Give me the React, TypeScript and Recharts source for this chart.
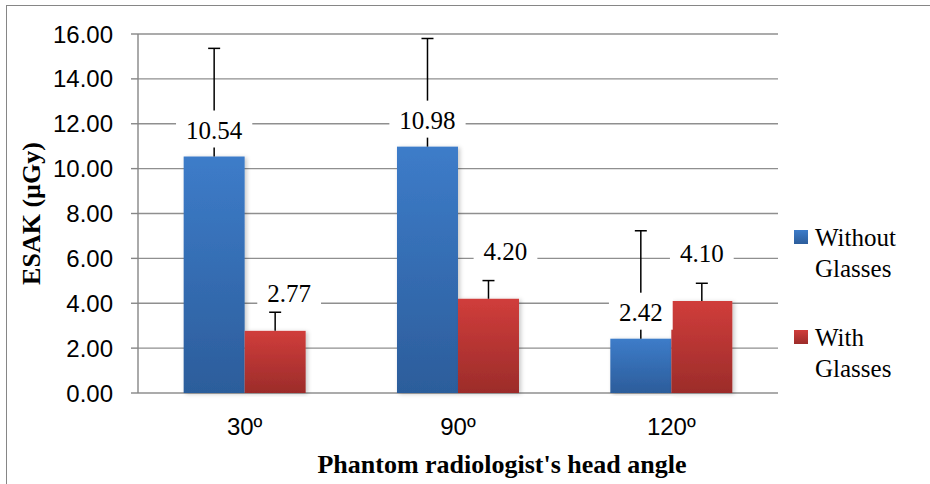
import React from 'react';
import { BarChart, Bar, XAxis, YAxis, CartesianGrid, Legend, LabelList, Label } from 'recharts';

// values
const angles = ['30º', '90º', '120º'];
const withoutGlasses = [10.54, 10.98, 2.42];
const withGlasses = [2.77, 4.2, 4.1];
const withoutGlassesErr = [4.82, 4.82, 4.81];
const withGlassesErr = [0.83, 0.81, 0.79];
const yTicks = [0, 2, 4, 6, 8, 10, 12, 14, 16];
const boundaryTicks = [0, 1, 2, 3];

const data = angles.map((angle, i) => ({
  angle,
  without: withoutGlasses[i],
  with: withGlasses[i],
  withoutErr: withoutGlassesErr[i],
  withErr: withGlassesErr[i],
}));

const SERIF = "'Liberation Serif', 'Times New Roman', serif";
const SANS = "'Liberation Sans', Arial, sans-serif";
const AXIS = '#868686';

// label placement (lift above bar top, sideways nudge) as in the reference
const blueLift = [26, 26, 26];
const redLift = [37, 47, 48];
const blueShift = [0, 0, 0];
const redShift = [14, 17, 0];

const makeShape = (valueKey: string, errKey: string, gradId: string) => (props: any) => {
  const { x, y, width, height, payload } = props;
  const v = payload[valueKey];
  const perUnit = v ? height / v : 0;
  const top = y - payload[errKey] * perUnit;
  const cx = x + width / 2;
  return (
    <g>
      <rect x={x} y={y} width={width} height={height} fill={`url(#${gradId})`} filter="url(#barShadow)" />
      <line x1={cx} x2={cx} y1={y} y2={top} stroke="#000" strokeWidth={1.5} />
      <line x1={cx - 6} x2={cx + 6} y1={top} y2={top} stroke="#000" strokeWidth={1.5} />
    </g>
  );
};

const makeLabel = (lifts: number[], shifts: number[]) => (props: any) => {
  const { x, y, width, value, index } = props;
  const cx = x + width / 2 + shifts[index];
  const cy = y - lifts[index];
  const text = Number(value).toFixed(2);
  const w = (text.length - 1) * 12.5 + 6.25 + 20;
  return (
    <g>
      <rect x={cx - w / 2} y={cy - 20} width={w} height={37} fill="#fff" />
      <text x={cx} y={cy} textAnchor="middle" dominantBaseline="central" style={{ fontFamily: SERIF, fontSize: 25 }} fill="#000">
        {text}
      </text>
    </g>
  );
};

const legendOrder = ['without', 'with'];
const legendColors: Record<string, string> = {
  without: 'linear-gradient(#3d7cc9, #2c5d9b)',
  with: 'linear-gradient(#d03d3b, #9c2c2a)',
};

const renderLegend = (props: any) => {
  const items = [...(props.payload || [])].sort(
    (a: any, b: any) => legendOrder.indexOf(a.dataKey) - legendOrder.indexOf(b.dataKey)
  );
  return (
    <div>
      {items.map((entry: any) => (
        <div key={entry.dataKey} style={{ display: 'flex', alignItems: 'flex-start', height: 62, marginBottom: 38 }}>
          <span style={{ width: 14, height: 14, marginTop: 8, marginRight: 7, background: legendColors[entry.dataKey] }} />
          <span style={{ width: 110, fontFamily: SERIF, fontSize: 25, lineHeight: '31px', color: '#000' }}>{entry.value}</span>
        </div>
      ))}
    </div>
  );
};

export default function App() {
  return (
    <div style={{ position: 'absolute', left: 0, top: 0, width: 930, height: 484, overflow: 'hidden', background: '#fff' }}>
      <div style={{ position: 'absolute', left: 6, top: 5, width: 940, height: 500, borderTop: `1px solid ${AXIS}`, borderLeft: `1px solid ${AXIS}` }} />
      <div style={{ position: 'absolute', left: 0, top: 0 }}>
        <BarChart
          width={930}
          height={484}
          data={data}
          margin={{ top: 34, right: 152, bottom: 0, left: 0 }}
          barCategoryGap="21.4%"
          barGap={0}
        >
          <defs>
            <linearGradient id="blueGrad" x1="0" y1="0" x2="0" y2="1">
              <stop offset="0%" stopColor="#3d7cc9" />
              <stop offset="100%" stopColor="#2c5d9b" />
            </linearGradient>
            <linearGradient id="redGrad" x1="0" y1="0" x2="0" y2="1">
              <stop offset="0%" stopColor="#d03d3b" />
              <stop offset="100%" stopColor="#9c2c2a" />
            </linearGradient>
            <filter id="barShadow" x="-20%" y="-5%" width="140%" height="110%">
              <feDropShadow dx="2" dy="1" stdDeviation="2" floodColor="#000" floodOpacity="0.22" />
            </filter>
          </defs>
          <CartesianGrid vertical={false} stroke="#8f8f8f" strokeWidth={1.4} xAxisId="num" />
          <XAxis
            xAxisId="num"
            type="number"
            domain={[0, 3]}
            ticks={boundaryTicks}
            allowDataOverflow
            height={0}
            tick={false}
            tickSize={7}
            stroke={AXIS}
            axisLine={{ stroke: AXIS, strokeWidth: 1.4 }}
            tickLine={{ stroke: AXIS, strokeWidth: 1.4 }}
          />
          <XAxis
            dataKey="angle"
            height={91}
            axisLine={false}
            tickLine={false}
            tickSize={0}
            tickMargin={25}
            tick={{ fontFamily: SANS, fontSize: 24, fill: '#000' }}
          >
            <Label
              content={() => (
                <text x={502} y={473} textAnchor="middle" style={{ fontFamily: SERIF, fontSize: 26, fontWeight: 'bold' }} fill="#000">
                  Phantom radiologist's head angle
                </text>
              )}
            />
          </XAxis>
          <YAxis
            width={138}
            domain={[0, 16]}
            ticks={yTicks}
            interval={0}
            tickFormatter={(v: number) => v.toFixed(2)}
            tick={{ fontFamily: SANS, fontSize: 24, fill: '#000' }}
            tickSize={7}
            tickMargin={18}
            axisLine={{ stroke: AXIS, strokeWidth: 1.4 }}
            tickLine={{ stroke: AXIS, strokeWidth: 1.4 }}
          >
            <Label
              content={(p: any) => {
                const vb = p.viewBox || { y: 34, height: 359 };
                const cy = vb.y + vb.height / 2;
                return (
                  <text
                    x={31.5}
                    y={cy}
                    transform={`rotate(-90, 31.5, ${cy})`}
                    textAnchor="middle"
                    dominantBaseline="central"
                    style={{ fontFamily: SERIF, fontSize: 26, fontWeight: 'bold' }}
                    fill="#000"
                  >
                    ESAK (µGy)
                  </text>
                );
              }}
            />
          </YAxis>
          <Legend
            layout="vertical"
            align="center"
            verticalAlign="middle"
            wrapperStyle={{ position: 'absolute', left: 794, top: 221.5, width: 136 }}
            content={renderLegend}
          />
          <Bar
            dataKey="without"
            name="Without Glasses"
            fill="#3d7cc9"
            isAnimationActive={false}
            shape={makeShape('without', 'withoutErr', 'blueGrad')}
          >
            <LabelList dataKey="without" content={makeLabel(blueLift, blueShift)} />
          </Bar>
          <Bar
            dataKey="with"
            name="With Glasses"
            fill="#d03d3b"
            isAnimationActive={false}
            shape={makeShape('with', 'withErr', 'redGrad')}
          >
            <LabelList dataKey="with" content={makeLabel(redLift, redShift)} />
          </Bar>
        </BarChart>
      </div>
    </div>
  );
}
